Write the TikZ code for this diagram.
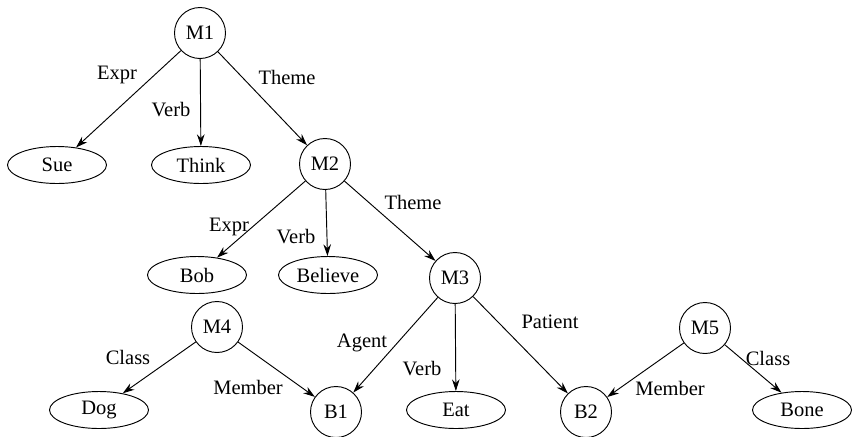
\documentclass[tikz,border=0pt]{standalone}
\usepackage{fontspec}
\setmainfont{Liberation Serif}
\usetikzlibrary{arrows.meta}
\usetikzlibrary{shapes, shapes.geometric}

\begin{document}
\begin{tikzpicture}[x=0.03cm, y=-0.03cm, line width=0.8pt, font=\fontsize{17.5}{20}\selectfont,
  prop/.style={circle, draw, minimum size=1.53cm, inner sep=0pt},
  concept/.style={ellipse, draw, minimum width=2.97cm, minimum height=1.11cm, inner sep=0pt},
  lbl/.style={inner sep=1pt},
  arc/.style={-{Stealth[length=10pt, width=6.5pt]}}]

\useasboundingbox (0,0) rectangle (852,436);

\node[prop] (M1) at (200,33) {M1};
\node[concept] (sue) at (57,165) {Sue};
\node[concept] (think) at (201,165) {Think};
\node[prop] (M2) at (325,164) {M2};
\node[concept] (bob) at (197,275) {Bob};
\node[concept] (believe) at (328,275) {Believe};
\node[prop] (M3) at (455,278) {M3};
\node[prop] (M4) at (217,327) {M4};
\node[concept] (dog) at (99,410) {Dog};
\node[prop] (B1) at (336,412) {B1};
\node[concept] (eat) at (456,410) {Eat};
\node[prop] (B2) at (586,412) {B2};
\node[prop] (M5) at (705,328) {M5};
\node[concept] (bone) at (802,410) {Bone};

\node[lbl] (exprA) at (117,75) {Expr};
\node[lbl] (verbA) at (171,110) {Verb};
\node[lbl] (themeA) at (287,77) {Theme};
\node[lbl] (exprB) at (229,227) {Expr};
\node[lbl] (verbB) at (296,237) {Verb};
\node[lbl] (themeB) at (413,202) {Theme};
\node[lbl] (classA) at (128,357) {Class};
\node[lbl] (memberA) at (248,387) {Member};
\node[lbl] (agent) at (362,343) {Agent};
\node[lbl] (verbC) at (422,369) {Verb};
\node[lbl] (patient) at (550,322) {Patient};
\node[lbl] (memberB) at (670,388) {Member};
\node[lbl] (classB) at (768,358) {Class};

\draw[arc] (M1) -- (sue);
\draw[arc] (M1) -- (think);
\draw[arc] (M1) -- (M2);
\draw[arc] (M2) -- (bob);
\draw[arc] (M2) -- (believe);
\draw[arc] (M2) -- (M3);
\draw[arc] (M3) -- (B1);
\draw[arc] (M3) -- (eat);
\draw[arc] (M3) -- (B2);
\draw[arc] (M4) -- (dog);
\draw[arc] (M4) -- (B1);
\draw[arc] (M5) -- (B2);
\draw[arc] (M5) -- (bone);

\end{tikzpicture}
\end{document}
